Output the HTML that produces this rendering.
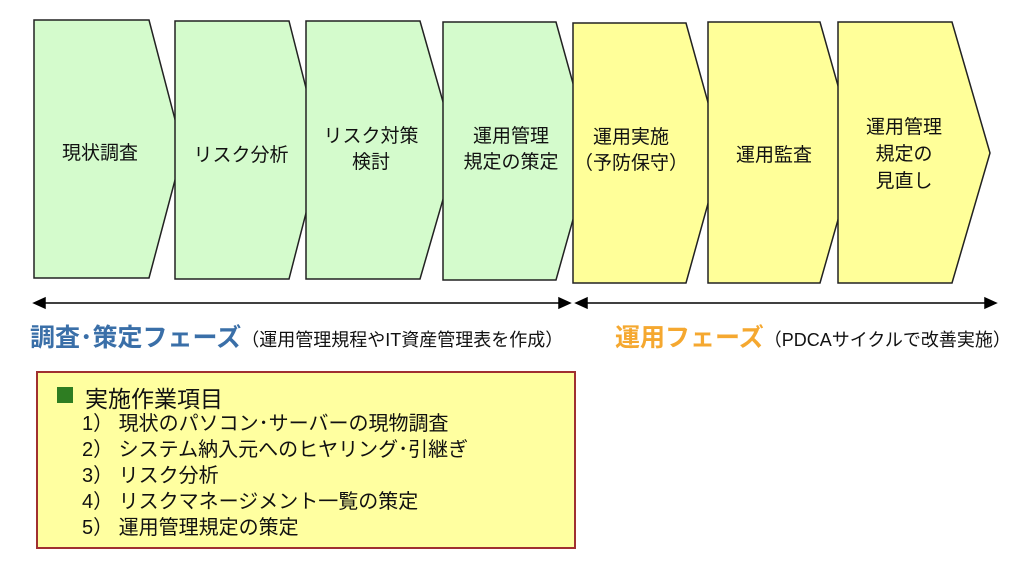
<!DOCTYPE html>
<html><head><meta charset="utf-8"><style>
body{margin:0;width:1024px;height:567px;background:#fff;overflow:hidden;position:relative;font-family:"Liberation Sans","Noto Sans CJK JP",sans-serif;}
svg{position:absolute;left:0;top:0}
.t{position:absolute;color:#111}
</style></head><body>
<svg width="1024" height="567">
<g stroke="#222" stroke-width="1.5">
<polygon points="34,20 149,20 183,150 149,278 34,278" fill="#d4fbcc"/>
<polygon points="175,21 289,21 322,151 289,279 175,279" fill="#d4fbcc"/>
<polygon points="306,21 420,21 457,151 420,279 306,279" fill="#d4fbcc"/>
<polygon points="443,22 556,22 592,152 556,280 443,280" fill="#d4fbcc"/>
<polygon points="573,23 686,23 722,153 686,283 573,283" fill="#ffff99"/>
<polygon points="708,22 820,22 857,153 820,283 708,283" fill="#ffff99"/>
<polygon points="838,22 952,22 990,153 952,283 838,283" fill="#ffff99"/>
</g>
<g stroke="#000" stroke-width="1.5" fill="#000">
<line x1="42" y1="303" x2="562" y2="303"/><polygon points="34,303 45,298 45,308"/><polygon points="570,303 559,298 559,308"/>
<line x1="584" y1="303" x2="988" y2="303"/><polygon points="576,303 587,298 587,308"/><polygon points="996,303 985,298 985,308"/>
</g>
<rect x="37" y="372" width="538" height="176" fill="#ffffa0" stroke="#a03030" stroke-width="2"/>
<rect x="57" y="387" width="16" height="16" fill="#2e7d22"/>
</svg>
<div class="t" style="left:34px;top:138px;width:132px;text-align:center;font-size:19px">現状調査</div>
<div class="t" style="left:175px;top:140px;width:132px;text-align:center;font-size:19px">リスク分析</div>
<div class="t" style="left:306px;top:124px;width:130px;text-align:center;font-size:19px;line-height:26px;white-space:nowrap">リスク対策<br>検討</div>
<div class="t" style="left:443px;top:124px;width:136px;text-align:center;font-size:19px;line-height:26px;white-space:nowrap">運用管理<br>規定の策定</div>
<div class="t" style="left:573px;top:125px;width:116px;text-align:center;font-size:19px;line-height:26px;white-space:nowrap">運用実施<br>（予防保守）</div>
<div class="t" style="left:708px;top:140px;width:132px;text-align:center;font-size:19px">運用監査</div>
<div class="t" style="left:838px;top:114px;width:132px;text-align:center;font-size:19px;line-height:27px">運用管理<br>規定の<br>見直し</div>
<div class="t" style="left:30px;top:318px;white-space:nowrap"><span style="font-size:25px;font-weight:bold;color:#3a6fa8">調査･策定フェーズ</span><span style="font-size:18px">（運用管理規程やIT資産管理表を作成）</span></div>
<div class="t" style="left:615px;top:318px;white-space:nowrap"><span style="font-size:25px;font-weight:bold;color:#f5a830">運用フェーズ</span><span style="font-size:18px">（PDCAサイクルで改善実施）</span></div>
<div class="t" style="left:85px;top:380px;font-size:23px">実施作業項目</div>
<div class="t" style="left:82px;top:411px;font-size:20px;line-height:26px;white-space:nowrap">1）&nbsp;現状のパソコン･サーバーの現物調査<br>2）&nbsp;システム納入元へのヒヤリング･引継ぎ<br>3）&nbsp;リスク分析<br>4）&nbsp;リスクマネージメント一覧の策定<br>5）&nbsp;運用管理規定の策定</div>
</body></html>
